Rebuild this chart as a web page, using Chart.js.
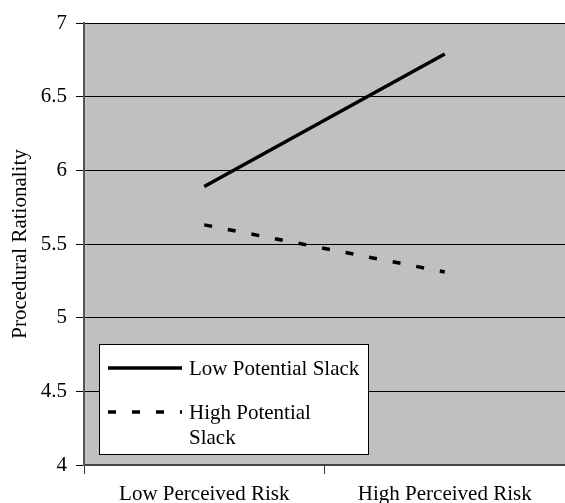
<!DOCTYPE html>
<html>
<head>
<meta charset="utf-8">
<script src="https://cdn.jsdelivr.net/npm/chart.js@4/dist/chart.umd.min.js"></script>
<style>
  html, body { margin: 0; padding: 0; background: #fff; }
  #wrap { width: 565px; height: 503px; }
</style>
</head>
<body>
<div id="wrap"><canvas id="chart"></canvas></div>
<script>
const categories = ['Low Perceived Risk', 'High Perceived Risk'];
const lowSlack = [5.89, 6.79];
const highSlack = [5.63, 5.31];
const seriesNames = ['Low Potential Slack', ['High Potential', 'Slack']];
const yTicks = [4, 4.5, 5, 5.5, 6, 6.5, 7];

const serif = '"Liberation Serif", "Times New Roman", serif';

// gray plot background
const plotBg = {
    id: 'plotBg',
    beforeDraw(chart) {
        const { ctx, chartArea: a } = chart;
        ctx.save();
        ctx.fillStyle = '#C0C0C0';
        ctx.fillRect(a.left, a.top, a.right - a.left, a.bottom - a.top);
        ctx.restore();
    }
};

// boxed legend inside the plot, bottom-left
const boxLegend = {
    id: 'boxLegend',
    afterDraw(chart) {
        const { ctx, chartArea: a } = chart;
        const x = a.left + 15, y = a.bottom - 121, w = 269, h = 110;
        ctx.save();
        ctx.fillStyle = '#fff';
        ctx.fillRect(x, y, w, h);
        ctx.strokeStyle = '#000';
        ctx.lineWidth = 1;
        ctx.strokeRect(x + 0.5, y + 0.5, w, h);
        ctx.font = '21px ' + serif;
        ctx.textBaseline = 'middle';
        ctx.fillStyle = '#000';
        const rows = [y + 24, y + 68];
        chart.data.datasets.forEach((ds, i) => {
            ctx.beginPath();
            ctx.lineWidth = ds.borderWidth;
            ctx.setLineDash(ds.borderDash || []);
            ctx.moveTo(x + 9, rows[i]);
            ctx.lineTo(x + 83, rows[i]);
            ctx.stroke();
            ctx.setLineDash([]);
            const lines = Array.isArray(seriesNames[i]) ? seriesNames[i] : [seriesNames[i]];
            lines.forEach((t, j) => ctx.fillText(t, x + 90, rows[i] + 1 + j * 25));
        });
        ctx.restore();
    }
};

new Chart(document.getElementById('chart'), {
    type: 'line',
    data: {
        labels: categories,
        datasets: [{
            label: 'Low Potential Slack',
            data: lowSlack,
            borderColor: '#000',
            borderWidth: 3.5,
            pointRadius: 0,
            tension: 0
        }, {
            label: 'High Potential Slack',
            data: highSlack,
            borderColor: '#000',
            borderWidth: 3.5,
            borderDash: [8, 16],
            pointRadius: 0,
            tension: 0
        }]
    },
    options: {
        responsive: true,
        maintainAspectRatio: false,
        animation: false,
        layout: { padding: { top: 23, right: 0, left: 0, bottom: 0 } },
        plugins: {
            legend: { display: false },
            tooltip: { enabled: false }
        },
        scales: {
            x: {
                offset: true,
                afterFit(scale) { scale.height = 38; },
                grid: {
                    offset: true,
                    drawOnChartArea: false,
                    drawTicks: true,
                    tickLength: 9,
                    color: '#333',
                    lineWidth: 1
                },
                border: { display: true, color: '#444', width: 2 },
                ticks: {
                    color: '#000',
                    padding: 8,
                    maxRotation: 0,
                    font: { family: serif, size: 21 }
                }
            },
            y: {
                min: 4,
                max: 7,
                afterFit(scale) { scale.width = 84; },
                afterBuildTicks(scale) { scale.ticks = yTicks.map(v => ({ value: v })); },
                grid: {
                    color: '#000',
                    lineWidth: 1,
                    tickLength: 8,
                    drawTicks: true
                },
                border: { display: true, color: '#555', width: 2 },
                ticks: {
                    color: '#000',
                    padding: 9,
                    font: { family: serif, size: 21 },
                    callback: v => String(v)
                },
                title: {
                    display: true,
                    text: 'Procedural Rationality',
                    color: '#000',
                    padding: { top: 8, bottom: 0 },
                    font: { family: serif, size: 21 }
                }
            }
        }
    },
    plugins: [plotBg, boxLegend]
});
</script>
</body>
</html>
